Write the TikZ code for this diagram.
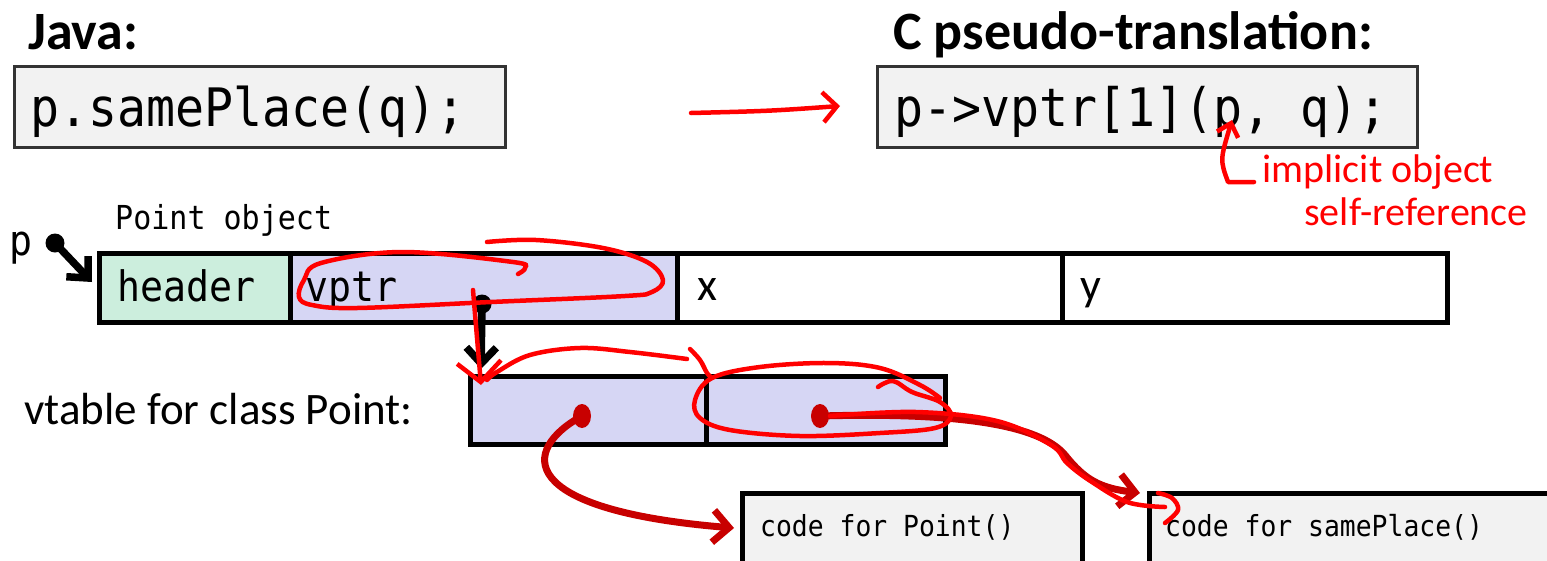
\documentclass[tikz,border=0pt]{standalone}
\usepackage{fontspec}
\setmainfont{Carlito}
\setmonofont{DejaVu Sans Mono}
\newfontfamily\cmono[FakeStretch=0.91]{DejaVu Sans Mono}
\usetikzlibrary{arrows.meta,calc,shapes.geometric}
\definecolor{codebg}{HTML}{F2F2F2}
\definecolor{mint}{HTML}{CCEEDD}
\definecolor{lav}{HTML}{D6D6F4}
\definecolor{penred}{HTML}{FF0000}
\definecolor{dred}{HTML}{C80000}
\begin{document}
\begin{tikzpicture}[x=1pt,y=-1pt,
  title/.style={font=\fontsize{54}{60}\selectfont\bfseries, anchor=base west, inner sep=0pt},
  codebox/.style={draw=black!80, line width=2.5pt, fill=codebg, anchor=north west, inner sep=0pt},
  bigcode/.style={font=\cmono\fontsize{53}{60}\selectfont, anchor=base west, inner sep=0pt},
  cell/.style={draw=black, line width=5pt, anchor=north west, inner sep=0pt},
  monotext/.style={font=\cmono\fontsize{42}{48}\selectfont, anchor=base west, inner sep=0pt},
  sanstext/.style={font=\fontsize{46}{52}\selectfont, anchor=base west, inner sep=0pt},
  smallcode/.style={font=\cmono\fontsize{29}{34}\selectfont, anchor=base west, inner sep=0pt},
  blockbox/.style={draw=black, line width=5pt, fill=codebg, anchor=north west, inner sep=0pt},
  memdot/.style={circle, fill=black, inner sep=0pt, minimum size=19pt},
  reddot/.style={ellipse, fill=dred, inner sep=0pt, minimum width=18pt, minimum height=24pt},
  blackarrow/.style={line width=7.5pt, -{Straight Barb[length=16pt,width=30pt]}},
  redarrow/.style={dred, line width=7pt, -{Straight Barb[length=16pt,width=32pt]}},
  pen/.style={penred, line width=4.5pt, line cap=round, line join=round},
  penarrow/.style={pen, -{Straight Barb[length=12pt,width=22pt]}},
  note/.style={penred, font=\fontsize{40}{44}\selectfont, inner sep=0pt},
]
\useasboundingbox (0,0) rectangle (1547,560);

% titles
\node[title] (tjava) at (28,49) {Java:};
\node[title] (tc) at (893,49) {C pseudo-translation:};

% code boxes
\node[codebox, minimum width=491, minimum height=81] (jbox) at (13,65) {};
\node[bigcode] (jtext) at ($(jbox.west)+(17,20)$) {p.samePlace(q);};
\node[codebox, minimum width=540, minimum height=81] (cbox) at (876,65) {};
\node[bigcode] (ctext) at ($(cbox.west)+(18,20)$) {p->vptr[1](p, q);};

% Java -> C arrow (pen)
\coordinate (ja) at (691,113);
\coordinate (jb) at (840,106);
\draw[pen, -{Straight Barb[length=14pt,width=30pt]}] (ja) .. controls (770,111) .. (jb);

% implicit object note
\coordinate (hk) at (1254,182);
\coordinate (pp) at (1232,120);
\draw[penarrow] (hk) -- (1228,182) .. controls (1220,160) .. (pp);
\node[note, anchor=center] (n1) at (1378,172) {implicit object};
\node[note, anchor=center] (n2) at (1416,212) {self-reference};

% Point object
\node[font=\cmono\fontsize{33}{38}\selectfont, anchor=base west, inner sep=0pt] (pobj) at (115,229) {Point object};
\node[font=\cmono\fontsize{42}{46}\selectfont, anchor=base west, inner sep=0pt] (plab) at (9,255) {p};

\node[cell, fill=mint, minimum width=191, minimum height=69] (hdr) at (97,251) {};
\node[cell, fill=lav, minimum width=387, minimum height=69] (vp) at (288,251) {};
\node[cell, fill=white, minimum width=385, minimum height=69] (xc) at (675,251) {};
\node[cell, fill=white, minimum width=385, minimum height=69] (yc) at (1060,251) {};
\node[monotext] (thdr) at (117,301) {header};
\node[monotext] (tvp) at (305,301) {vptr};
\node[sanstext] (tx) at (697,300) {x};
\node[sanstext] (ty) at (1080,300) {y};

\node[memdot] (pdot) at (55,243) {};
\draw[blackarrow] (pdot.center) -- ($(hdr.north west)+(-5,31)$);

% vtable
\node[font=\fontsize{45}{50}\selectfont, anchor=base west, inner sep=0pt] (vtlab) at (24,424) {vtable for class Point:};
\node[cell, fill=lav, minimum width=236, minimum height=68] (vt1) at (468,374) {};
\node[cell, fill=lav, minimum width=239, minimum height=68] (vt2) at (704,374) {};

\node[memdot] (vdot) at (482,304) {};
\draw[blackarrow] (vdot.center) -- ($(vt1.north west)+(13,-5)$);

% code blocks
\node[blockbox, minimum width=340, minimum height=100] (cpt) at (740,491) {};
\node[blockbox, minimum width=460, minimum height=100] (csp) at (1147,491) {};
\node[smallcode] (tcpt) at (760,536) {code for Point()};
\node[smallcode] (tcsp) at (1165,536) {code for samePlace()};

% dark red pointers
\node[reddot] (d1) at (582,416) {};
\node[reddot] (d2) at (820,416) {};
\draw[redarrow] (d1.center) .. controls (520,450) and (515,510) .. ($(cpt.north west)+(-6,37)$);
\draw[redarrow] (d2.center) .. controls (960,412) and (1040,425) .. (1065,455)
   .. controls (1085,480) and (1100,488) .. ($(csp.north west)+(-7,2)$);

% pen annotations
\draw[pen] plot[smooth, tension=0.6] coordinates {(487,242) (536,240) (603,248) (647,262) (663,280) (652,292) (625,296) (491,302) (357,308) (312,305) (299,297) (304,280) (321,263) (402,252) (513,262) (525,268) (518,274)};
\draw[pen, -{Straight Barb[length=20pt,width=44pt]}] (473,290) -- (481,385);
\draw[pen] plot[smooth, tension=0.6] coordinates {(487,380) (497,372) (530,355) (580,348) (630,352) (687,359)};
\draw[pen] plot[smooth, tension=0.6] coordinates {(690,349) (700,360) (707,373) (712,378)};
\draw[pen] plot[smooth, tension=0.6] coordinates {(878,387) (893,381) (912,392) (940,402) (951,416) (935,428) (880,433) (800,436) (730,430) (700,418) (695,400) (712,378) (760,367) (827,363) (880,368) (920,385) (940,398)};
\draw[pen] plot[smooth, tension=0.6] coordinates {(830,416) (916,412) (997,421) (1051,445) (1067,463) (1089,480) (1127,502) (1165,507)};
\draw[pen] plot[smooth, tension=0.6] coordinates {(1158,493) (1172,498) (1178,510) (1165,523)};
\end{tikzpicture}
\end{document}
